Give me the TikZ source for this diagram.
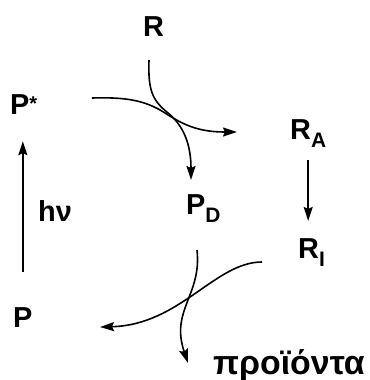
\documentclass[tikz,border=0pt]{standalone}
\usepackage{fontspec}
\setmainfont{Liberation Sans}
\usetikzlibrary{arrows.meta}

\newcommand\chemsub[1]{\raisebox{-0.28em}{\fontsize{21}{21}\selectfont #1}}
\newcommand\excited{\raisebox{0.12em}{\fontsize{20}{20}\selectfont *}}

\begin{document}
\begin{tikzpicture}[
        x=1bp, y=-1bp,
        species/.style={font=\fontsize{29}{32}\selectfont\bfseries, inner sep=0pt, anchor=base west},
        arrow/.style={-{Stealth[length=14bp, width=9bp, inset=2bp]}, line width=1.6bp}
    ]
    \useasboundingbox (0,0) rectangle (370,380);

    % --- Photocatalyst ---
    \node[species] (Pstar) at (10,114) {P\excited};
    \node[species] (P) at (13,327) {P};
    \node[species] (hv) at (38,221) {hν};
    \node[species] (PD) at (186,214) {P\chemsub{D}};

    % --- Reactant ---
    \node[species] (R) at (143,36) {R};
    \node[species] (RA) at (290,139) {R\chemsub{A}};
    \node[species] (RI) at (298,258) {R\chemsub{I}};
    \node[species, font=\fontsize{34}{36}\selectfont\bfseries] (prod) at (213,374) {προϊόντα};

    % --- Free ends of the curved arrows ---
    \coordinate (Rfoot) at (149,60);
    \coordinate (PDhead) at (191,180);
    \coordinate (Pstarfoot) at (92,98);
    \coordinate (RAhead) at (237,132);
    \coordinate (RIfoot) at (262,262);
    \coordinate (Phead) at (100,327);
    \coordinate (PDfoot) at (197,250);
    \coordinate (prodhead) at (188,363);

    % --- Connections ---
    \draw[arrow, shorten <=35bp, shorten >=27bp] (P.north) -- (P.north |- Pstar.south);
    \draw[arrow, shorten <=13bp, shorten >=17bp] (RA.south) -- (RA.south |- RI.north);

    % top crossing
    \draw[arrow] (Rfoot) .. controls (148,90) and (152,100) .. (168,113)
        .. controls (184,126) and (191,145) .. (PDhead);
    \draw[arrow] (Pstarfoot) .. controls (125,97) and (145,100) .. (165,113)
        .. controls (185,126) and (200,132) .. (RAhead);

    % bottom crossing
    \draw[arrow] (RIfoot) .. controls (215,262) and (180,325) .. (Phead);
    \draw[arrow] (PDfoot) .. controls (202,295) and (170,310) .. (prodhead);

\end{tikzpicture}
\end{document}
